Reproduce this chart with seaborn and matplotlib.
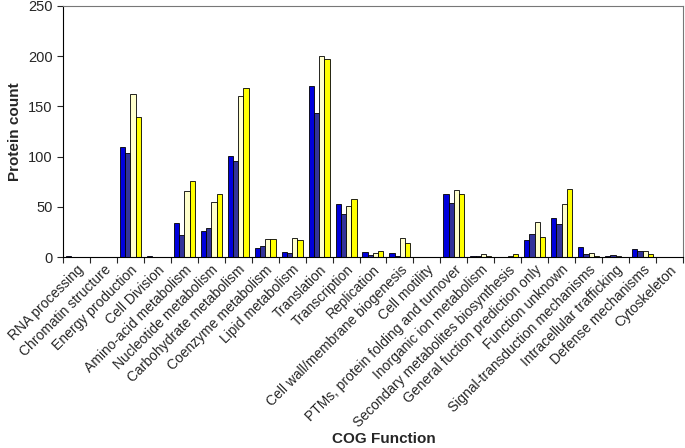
import matplotlib
matplotlib.use("Agg")
import matplotlib.pyplot as plt
import seaborn as sns
import pandas as pd
import numpy as np

categories = [
    "RNA processing", "Chromatin structure", "Energy production", "Cell Division",
    "Amino-acid metabolism", "Nucleotide metabolism", "Carbohydrate metabolism",
    "Coenzyme metabolism", "Lipid metabolism", "Translation", "Transcription",
    "Replication", "Cell wall/membrane biogenesis", "Cell motility",
    "PTMs, protein folding and turnover", "Inorganic ion metabolism",
    "Secondary metabolites biosynthesis", "General fuction prediction only",
    "Function unknown", "Signal-transduction mechanisms", "Intracellular trafficking",
    "Defense mechanisms", "Cytoskeleton",
]
series_names = ["S1", "S2", "S3", "S4"]
s1 = [1, 0, 110, 1, 34, 26, 101, 9, 5, 170, 53, 5, 4, 0.5, 63, 1, 0, 17, 39, 10, 1, 8, 0]
s2 = [0, 0, 104, 0, 22, 29, 96, 11, 4, 143, 43, 2, 1, 0.5, 54, 1, 0, 23, 33, 3, 2, 6, 0]
s3 = [0, 0, 162, 0, 66, 55, 160, 18, 19, 200, 51, 4, 19, 0.5, 67, 3, 1, 35, 53, 4, 1, 6, 0]
s4 = [0, 0, 139, 0, 76, 63, 168, 18, 17, 197, 58, 6, 14, 0.5, 63, 1, 3, 20, 68, 1, 0.5, 3, 0]
colors = ["#0000DD", "#333399", "#FFFFCC", "#FFFF00"]

rows = []
for name, vals in zip(series_names, [s1, s2, s3, s4]):
    for c, v in zip(categories, vals):
        rows.append({"cog": c, "series": name, "count": v})
df = pd.DataFrame(rows)

sns.set_style("white")
plt.rcParams["font.family"] = ["Liberation Sans", "DejaVu Sans"]

fig = plt.figure(figsize=(6.85, 4.48), dpi=100)
ax = fig.add_axes([0.092, 0.426, 0.905, 0.561])
sns.barplot(data=df, x="cog", y="count", hue="series", palette=colors, saturation=1,
            edgecolor="black", linewidth=0.6, width=0.78, legend=False, ax=ax)

ax.set_xlim(-0.5, len(categories) - 0.5)
ax.set_ylim(0, 250)
ax.set_yticks([0, 50, 100, 150, 200, 250])
ax.tick_params(axis="y", labelsize=10.5, length=4, direction="out", left=True, width=0.8)
ax.set_xticks(range(len(categories)))
ax.set_xticklabels(categories, rotation=45, ha="right", rotation_mode="anchor", fontsize=10)
ax.tick_params(axis="x", which="major", length=0, pad=4)
ax.set_xticks(np.arange(-0.5, len(categories), 1), minor=True)
ax.tick_params(axis="x", which="minor", length=4, width=0.8, bottom=True, direction="out")
for side in ["left", "bottom"]:
    ax.spines[side].set_color("black")
    ax.spines[side].set_linewidth(0.8)
for side in ["top", "right"]:
    ax.spines[side].set_color("#777777")
    ax.spines[side].set_linewidth(0.8)
ax.set_ylabel("Protein count", fontsize=11, fontweight="bold")
ax.set_xlabel("")
fig.text(0.56, 0.005, "COG Function", fontsize=11, fontweight="bold", ha="center", va="bottom")

fig.savefig("out.png", dpi=100)
